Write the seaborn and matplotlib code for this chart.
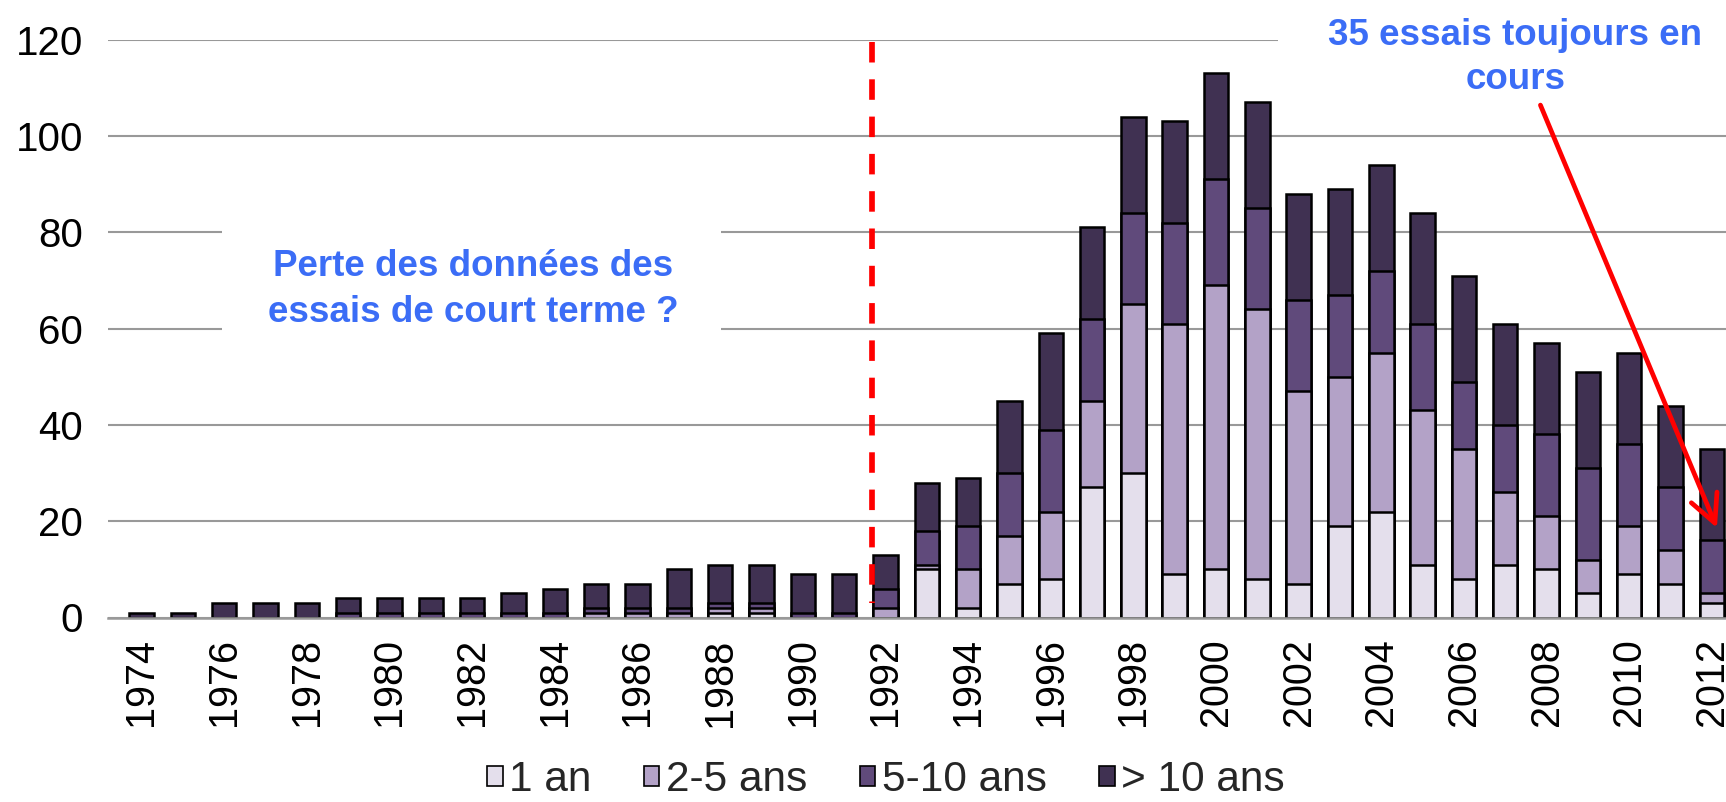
import matplotlib
matplotlib.use("Agg")
import matplotlib.pyplot as plt
from matplotlib.patches import Patch, Rectangle
import numpy as np
import seaborn as sns

years = list(range(1974, 2013))
one_an = [0, 0, 0, 0, 0, 0, 0, 0, 0, 0, 0, 0, 0, 0, 1, 1, 0, 0, 0, 10,
          2, 7, 8, 27, 30, 9, 10, 8, 7, 19, 22, 11, 8, 11, 10, 5, 9, 7, 3]
two_five = [0, 0, 0, 0, 0, 0, 0, 0, 0, 0, 0, 1, 1, 1, 1, 1, 0, 0, 2, 1,
            8, 10, 14, 18, 35, 52, 59, 56, 40, 31, 33, 32, 27, 15, 11, 7, 10, 7, 2]
five_ten = [0, 0, 0, 0, 0, 1, 1, 1, 1, 1, 1, 1, 1, 1, 1, 1, 1, 1, 4, 7,
            9, 13, 17, 17, 19, 21, 22, 21, 19, 17, 17, 18, 14, 14, 17, 19, 17, 13, 11]
over_ten = [1, 1, 3, 3, 3, 3, 3, 3, 3, 4, 5, 5, 5, 8, 8, 8, 8, 8, 7, 10,
            10, 15, 20, 19, 20, 21, 22, 22, 22, 22, 22, 23, 22, 21, 19, 20, 19, 17, 19]
series_names = ["1 an", "2-5 ans", "5-10 ans", "> 10 ans"]
colors = ["#e4dfec", "#b3a2c7", "#604a7b", "#403152"]
y_ticks = [0, 20, 40, 60, 80, 100, 120]

sns.set_style("white")
plt.rcParams["font.family"] = ["Liberation Sans", "DejaVu Sans"]

W, H = 1726, 802
fig = plt.figure(figsize=(W / 100, H / 100), dpi=100)
ax = fig.add_axes([108 / W, (H - 617.5) / H, (W - 108) / W, (617.5 - 39.6) / H])

labels = [str(y) for y in years]
layers = [one_an, two_five, five_ten, over_ten]
cum = np.cumsum(np.array(layers), axis=0)
for i in range(3, -1, -1):
    sns.barplot(x=labels, y=cum[i], order=labels, color=colors[i], saturation=1,
                width=0.59, edgecolor="black", linewidth=1.8, errorbar=None,
                ax=ax, zorder=2)

ax.set_xlim(-0.81, 38.34)
ax.set_ylim(0, 120)
ax.set_yticks(y_ticks)
ax.set_yticklabels([str(v) for v in y_ticks])
ax.set_xticks(range(0, len(years), 2))
ax.set_xticklabels(labels[::2])
ax.tick_params(axis="x", rotation=90, length=0, pad=15, labelsize=28.5, colors="black")
ax.tick_params(axis="y", length=0, pad=18, labelsize=29, colors="black")
ax.set_xlabel("")
ax.set_ylabel("")

ax.set_axisbelow(True)
ax.yaxis.grid(True, color="#999999", linewidth=1.5)
ax.xaxis.grid(False)
for s in ["left", "right", "top"]:
    ax.spines[s].set_visible(False)
ax.spines["bottom"].set_color("#999999")
ax.spines["bottom"].set_linewidth(1.8)

# white backgrounds behind annotations
ax.add_patch(Rectangle((1.96, 52), 12.07, 34, facecolor="white", edgecolor="none", zorder=1))
ax.add_patch(Rectangle((27.5, 113), 12, 12, facecolor="white", edgecolor="none",
                       zorder=1, clip_on=False))

# red dashed separator
ax.plot([17.68, 17.68], [119.5, 3], color="#ff0000", linewidth=4.1,
        dashes=(3.6, 2.95), zorder=3, clip_on=False, solid_capstyle="butt")

blue = "#3b6df6"
ax.text(8.02, 68.1, "Perte des données des\nessais de court terme ?", ha="center",
        va="center", multialignment="center", fontsize=26.5, fontweight="bold",
        color=blue, linespacing=1.38, zorder=4)
ax.text(33.24, 116.3, "35 essais toujours en\ncours", ha="center", va="center",
        multialignment="center", fontsize=26.5, fontweight="bold", color=blue,
        linespacing=1.32, zorder=4, clip_on=False)

ax.annotate("", xy=(38.12, 18.6), xytext=(33.85, 106.4),
            arrowprops=dict(arrowstyle="->,head_length=1.0,head_width=0.5",
                            color="#ff0000", lw=3.4, mutation_scale=20,
                            shrinkA=0, shrinkB=0), zorder=5)

handles = [Patch(facecolor=c, edgecolor="black", linewidth=1.2) for c in colors]
fig.legend(handles, series_names, loc="center", bbox_to_anchor=(886 / W, 1 - 780 / H),
           ncol=4, frameon=False, fontsize=30.5, handlelength=0.36, handleheight=0.36,
           handletextpad=0.15, columnspacing=1.25, borderaxespad=0, borderpad=0)

fig.savefig("out.png", dpi=100)
